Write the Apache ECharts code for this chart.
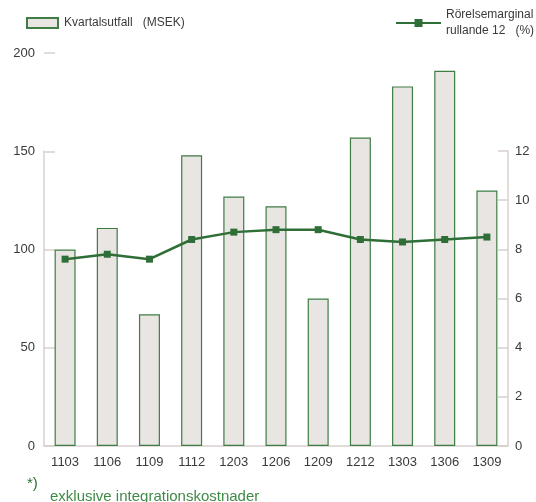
<!DOCTYPE html>
<html>
<head>
<meta charset="utf-8">
<script src="https://cdn.jsdelivr.net/npm/echarts@6/dist/echarts.min.js"></script>
<style>
  html, body { margin: 0; padding: 0; background: #fff; }
  #chart { width: 536px; height: 502px; }
</style>
</head>
<body>
<div id="chart"></div>
<script>
// Quarter labels (YYMM)
const quarters = ['1103', '1106', '1109', '1112', '1203', '1206', '1209', '1212', '1303', '1306', '1309'];
// Quarterly result, MSEK
const quarterlyResult = [100, 111, 67, 148, 127, 122, 75, 157, 183, 191, 130];
// Operating margin, rolling 12 months, %
const operatingMargin = [7.6, 7.8, 7.6, 8.4, 8.7, 8.8, 8.8, 8.4, 8.3, 8.4, 8.5];
// Axis ticks
const leftTicks = [0, 50, 100, 150, 200];
const rightTicks = [0, 2, 4, 6, 8, 10, 12];

const barName = 'Kvartalsutfall   (MSEK)';
const lineName = 'Rörelsemarginal\nrullande 12   (%)';

const FONT = 'Liberation Sans';
const AXIS_COLOR = '#d9d0cf';
const GREEN = '#2f6f37';
const BAR_BORDER = '#3f7d45';
const BAR_FILL = '#e8e5e2';
const TEXT = '#3a3a3a';

const chart = echarts.init(document.getElementById('chart'), null, { renderer: 'canvas' });

const gridLeft = 44, gridRight = 28, gridBottom = 56;

chart.setOption({
  animation: false,
  textStyle: { fontFamily: FONT },
  legend: [
    {
      data: [{ name: barName, icon: 'rect' }],
      left: 21, top: 12,
      itemWidth: 31, itemHeight: 10, itemGap: 8,
      textStyle: { fontFamily: FONT, fontSize: 12, color: TEXT, padding: [0, 0, 0, 1] },
      selectedMode: false
    },
    {
      data: [lineName],
      left: 390, top: 2,
      itemWidth: 45, itemHeight: 10, itemGap: 6,
      textStyle: { fontFamily: FONT, fontSize: 12, color: TEXT, lineHeight: 16 },
      selectedMode: false
    }
  ],
  grid: [
    // bars, left axis 0..200
    { left: gridLeft, right: gridRight, top: 53, bottom: gridBottom },
    // line, right axis 0..12 (same pixel bottom; 12 aligns with 150)
    { left: gridLeft, right: gridRight, top: 151, bottom: gridBottom }
  ],
  xAxis: [
    {
      type: 'category', data: quarters, gridIndex: 0,
      boundaryGap: true,
      axisLine: { lineStyle: { color: AXIS_COLOR, width: 1.5 } },
      axisTick: { show: false },
      axisLabel: { color: TEXT, fontSize: 13, fontFamily: FONT, margin: 10 }
    },
    {
      type: 'category', data: quarters, gridIndex: 1,
      boundaryGap: true, show: false
    }
  ],
  yAxis: [
    {
      type: 'value', gridIndex: 0, position: 'left',
      min: 0, max: 200, interval: 50,
      axisLine: { show: false },
      axisTick: { show: true, inside: true, length: 11, lineStyle: { color: AXIS_COLOR, width: 1.5 } },
      splitLine: { show: false },
      axisLabel: {
        color: TEXT, fontSize: 13, fontFamily: FONT, margin: 9,
        formatter: v => (leftTicks.includes(v) ? String(v) : '')
      }
    },
    {
      type: 'value', gridIndex: 1, position: 'right',
      min: 0, max: 12, interval: 2,
      axisLine: { show: true, lineStyle: { color: AXIS_COLOR, width: 1.5 } },
      axisTick: { show: true, inside: true, length: 10, lineStyle: { color: AXIS_COLOR, width: 1.5 } },
      splitLine: { show: false },
      axisLabel: {
        color: TEXT, fontSize: 13, fontFamily: FONT, margin: 7,
        formatter: v => (rightTicks.includes(v) ? String(v) : '')
      }
    },
    {
      // left axis line, drawn only up to 150
      type: 'value', gridIndex: 1, position: 'left',
      min: 0, max: 150,
      axisLine: { show: true, lineStyle: { color: AXIS_COLOR, width: 1.5 } },
      axisTick: { show: false },
      axisLabel: { show: false },
      splitLine: { show: false }
    }
  ],
  series: [
    {
      name: barName,
      type: 'bar',
      xAxisIndex: 0, yAxisIndex: 0,
      data: quarterlyResult,
      barWidth: 21,
      itemStyle: { color: BAR_FILL, borderColor: BAR_BORDER, borderWidth: 1.2 },
      z: 2
    },
    {
      name: lineName,
      type: 'line',
      xAxisIndex: 1, yAxisIndex: 1,
      data: operatingMargin,
      symbol: 'rect', symbolSize: 7,
      lineStyle: { color: GREEN, width: 2.5 },
      itemStyle: { color: GREEN },
      z: 5
    }
  ],
  graphic: [
    {
      type: 'text', left: 27, top: 476,
      style: { text: '*)', fill: GREEN, font: '15px "Liberation Sans"' }
    },
    {
      type: 'text', left: 50, top: 489,
      style: { text: 'exklusive integrationskostnader', fill: '#3f8a47', font: '15px "Liberation Sans"' }
    }
  ]
});
</script>
</body>
</html>
